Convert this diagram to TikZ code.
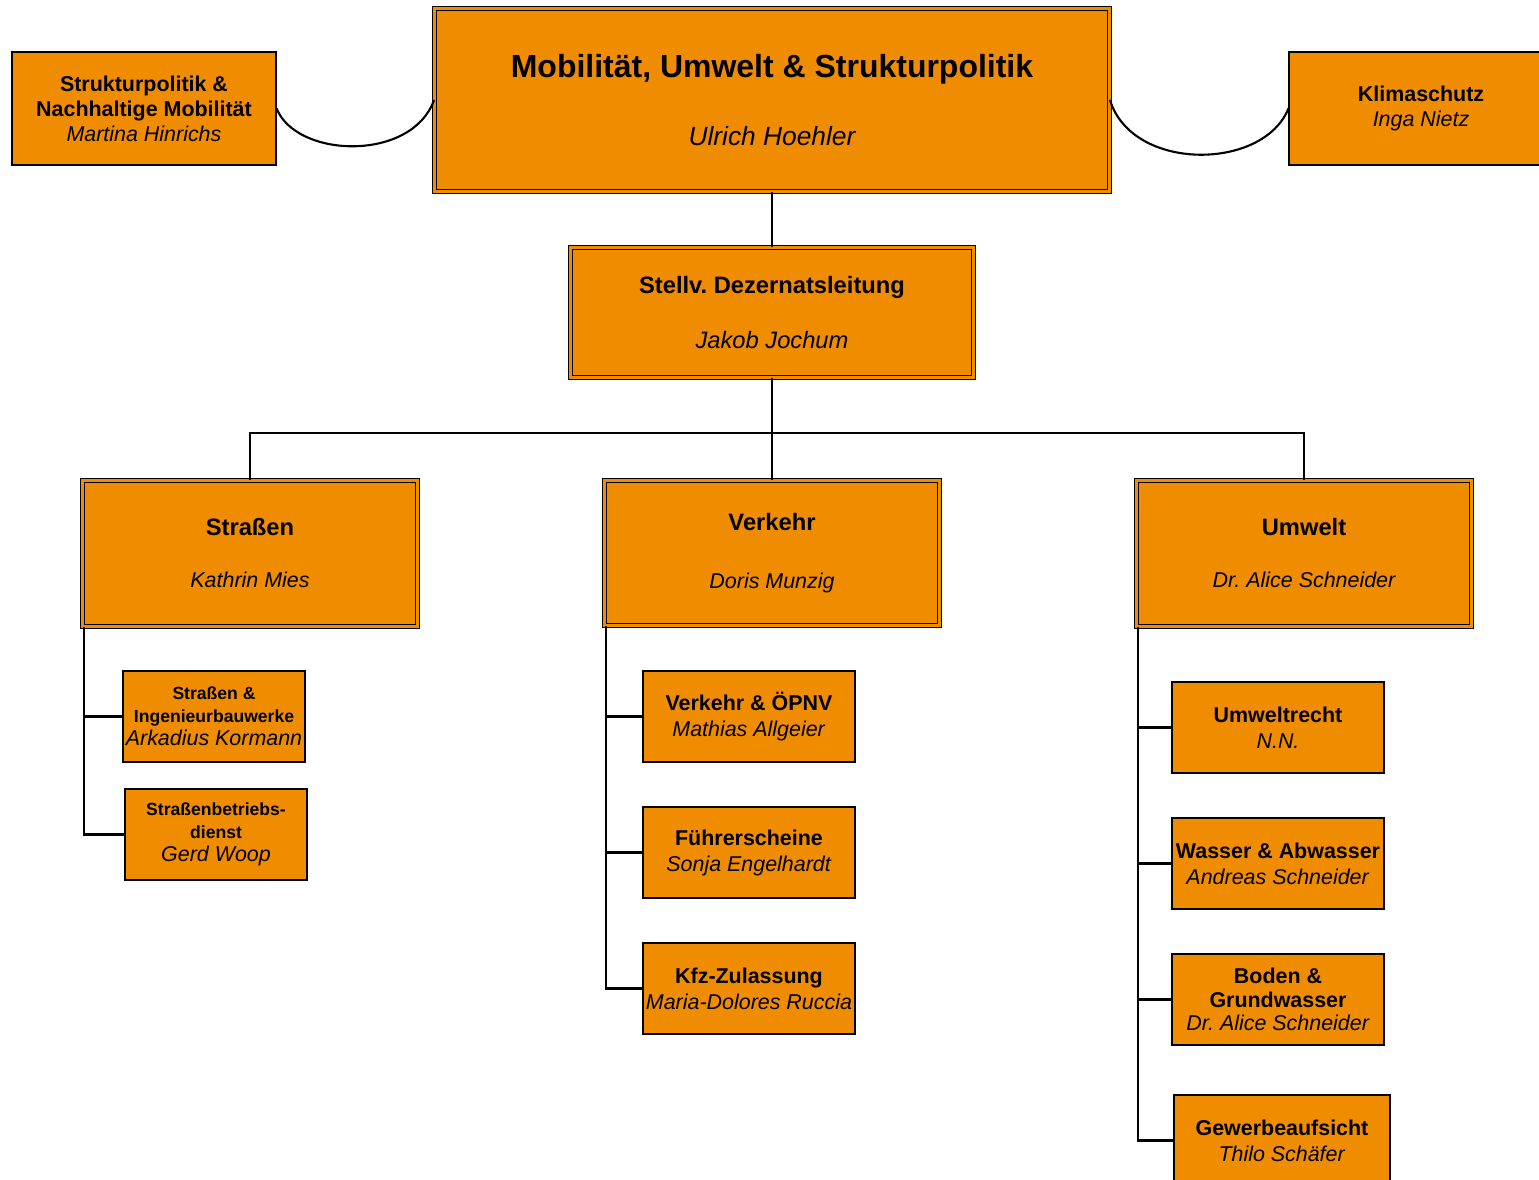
\documentclass[tikz,border=0pt]{standalone}
\usepackage{fontspec}
\setmainfont{Liberation Sans}
\frenchspacing
\usetikzlibrary{calc}
\definecolor{amtorange}{RGB}{240,140,0}

\begin{document}
\begin{tikzpicture}[x=0.02cm, y=-0.02cm,
    amtbox/.style={draw=black, line width=0.7pt, fill=amtorange, align=center, inner sep=1pt,
      font=\fontsize{12.2}{14.8}\selectfont, minimum width=4.24cm, minimum height=1.82cm},
    leitbox/.style={amtbox, line width=0.6pt, double=amtorange, double distance=1.6pt},
    conn/.style={line width=1.4pt, draw=black},
    elbow/.style={to path={|- (\tikztotarget)}}]
  \useasboundingbox (0,0) rectangle (1539,1180);
  \clip (0,0) rectangle (1539,1180);

  % Dezernat und Stabsstellen
  \node[leitbox, minimum width=13.5cm, minimum height=3.66cm, font=\fontsize{18.2}{38.7}\selectfont] (dezernat) at (772,100)
    {\textbf{Mobilität, Umwelt \& Strukturpolitik}\\{\fontsize{15}{18}\selectfont\itshape Ulrich Hoehler}};
  \node[amtbox, minimum width=5.28cm, minimum height=2.26cm, font=\fontsize{12.2}{14.2}\selectfont] (strukpol) at (144,108.5)
    {\textbf{Strukturpolitik \&}\\\textbf{Nachhaltige Mobilität}\\\textit{Martina Hinrichs}};
  \node[amtbox, minimum width=5.28cm, minimum height=2.26cm, font=\fontsize{12.2}{14.2}\selectfont] (klima) at (1421,108.5)
    {\textbf{Klimaschutz}\\\textit{Inga Nietz}};
  \node[leitbox, minimum width=8.06cm, minimum height=2.6cm, font=\fontsize{13.5}{31.3}\selectfont] (stellv) at (772,312.5)
    {\textbf{Stellv. Dezernatsleitung}\\\textit{Jakob Jochum}};

  % Aemter
  \node[leitbox, minimum width=6.7cm, minimum height=2.92cm, font=\fontsize{13.5}{29.6}\selectfont] (strassen) at (250,553.5)
    {\textbf{Straßen}\\{\fontsize{12.2}{14}\selectfont\itshape Kathrin Mies}};
  \node[leitbox, minimum width=6.7cm, minimum height=2.9cm, font=\fontsize{13.5}{33}\selectfont] (verkehr) at (772,553)
    {\textbf{Verkehr}\\{\fontsize{12.2}{14}\selectfont\itshape Doris Munzig}};
  \node[leitbox, minimum width=6.7cm, minimum height=2.92cm, font=\fontsize{13.5}{29.6}\selectfont] (umwelt) at (1304,553.5)
    {\textbf{Umwelt}\\{\fontsize{12.2}{14}\selectfont\itshape Dr. Alice Schneider}};

  % Abteilungen
  \node[amtbox, minimum width=3.64cm, font=\fontsize{10}{13}\selectfont] (strbau) at (214,716.5)
    {\textbf{Straßen \&}\\\textbf{Ingenieurbauwerke}\\{\fontsize{12.2}{14}\selectfont\itshape Arkadius Kormann}};
  \node[amtbox, minimum width=3.64cm, font=\fontsize{10}{13}\selectfont] (strdienst) at (216,834.5)
    {\textbf{Straßenbetriebs-}\\\textbf{dienst}\\{\fontsize{12.2}{14}\selectfont\itshape Gerd Woop}};
  \node[amtbox] (oepnv) at (749,716.5) {\textbf{Verkehr \& ÖPNV}\\\textit{Mathias Allgeier}};
  \node[amtbox] (fuehrer) at (749,852.5) {\textbf{Führerscheine}\\\textit{Sonja Engelhardt}};
  \node[amtbox] (kfz) at (749,988.5) {\textbf{Kfz-Zulassung}\\\textit{Maria-Dolores Ruccia}};
  \node[amtbox] (umrecht) at (1278,727.5) {\textbf{Umweltrecht}\\\textit{N.N.}};
  \node[amtbox] (wasser) at (1278,863.5) {\textbf{Wasser \& Abwasser}\\\textit{Andreas Schneider}};
  \node[amtbox, font=\fontsize{12.2}{13.5}\selectfont] (boden) at (1278,999.5)
    {\textbf{Boden \&}\\\textbf{Grundwasser}\\\textit{Dr. Alice Schneider}};
  \node[amtbox, minimum width=4.32cm] (gewerbe) at (1282,1140.5) {\textbf{Gewerbeaufsicht}\\\textit{Thilo Schäfer}};

  % Verbindungen
  \coordinate (bus) at (772,433);
  \coordinate (sA) at ($(strassen.south west)+(2,0)$);
  \coordinate (vA) at ($(verkehr.south west)+(2,0)$);
  \coordinate (uA) at ($(umwelt.south west)+(2,0)$);
  \draw[line width=1.2pt] (strukpol.east) .. controls +(20,50) and +(-22,62) .. (dezernat.west);
  \draw[line width=1.2pt] (dezernat.east) .. controls +(22,72) and +(-25,62.5) .. (klima.west);
  \path[conn]
    (dezernat.south) edge (stellv.north)
    (stellv.south) edge (verkehr.north)
    (strassen.north) edge[to path={|- (\tikztotarget)}] (bus)
    (umwelt.north) edge[to path={|- (\tikztotarget)}] (bus)
    (sA) edge[elbow] (strbau.west) edge[elbow] (strdienst.west)
    (vA) edge[elbow] (oepnv.west) edge[elbow] (fuehrer.west) edge[elbow] (kfz.west)
    (uA) edge[elbow] (umrecht.west) edge[elbow] (wasser.west) edge[elbow] (boden.west) edge[elbow] (gewerbe.west);
\end{tikzpicture}
\end{document}
